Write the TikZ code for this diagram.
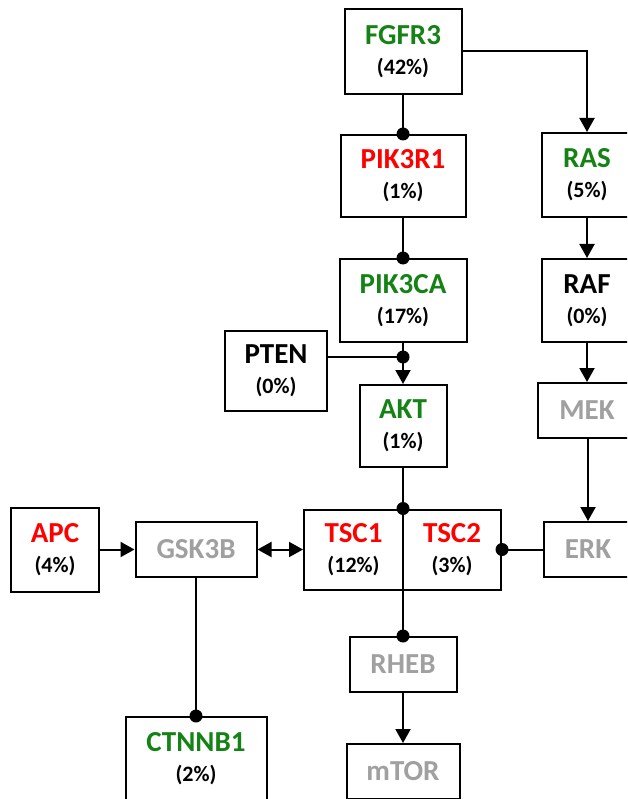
\documentclass[tikz,border=0pt]{standalone}
\usepackage{fontspec}
\setmainfont{Carlito}
\usetikzlibrary{arrows.meta,calc}
\definecolor{gGreen}{RGB}{20,130,20}
\definecolor{gRed}{RGB}{255,0,0}
\definecolor{gGray}{RGB}{160,160,160}
\newcommand{\gname}[2]{{\fontsize{29}{30}\selectfont\bfseries\color{#1}#2}}
\newcommand{\gpct}[1]{{\fontsize{22}{30}\selectfont\bfseries #1}}
\begin{document}
\begin{tikzpicture}[x=1pt,y=-1pt,
  gbox/.style={draw=black,line width=2pt,inner sep=0pt,align=center,fill=white,
    font=\fontsize{22}{30}\selectfont\bfseries},
  conn/.style={line width=2pt,draw=black},
  arr/.style={conn,-{Triangle[width=15pt,length=14pt]}},
  darr/.style={conn,{Triangle[width=15pt,length=14pt]}-{Triangle[width=15pt,length=14pt]}},
  dotr/.style={fill=black}
]
\useasboundingbox (0,0) rectangle (627,799);
\clip (0,0) rectangle (627,799);
\fill[white] (0,0) rectangle (627,799);

% nodes
\node[gbox,minimum width=117pt,minimum height=85pt] (FGFR3) at (403,51.5) {\gname{gGreen}{FGFR3}\\\gpct{(42\%)}};
\node[gbox,minimum width=125pt,minimum height=82pt] (PIK3R1) at (403,176) {\gname{gRed}{PIK3R1}\\\gpct{(1\%)}};
\node[gbox,minimum width=90pt,minimum height=84pt] (RAS) at (587,175) {\gname{gGreen}{RAS}\\\gpct{(5\%)}};
\node[gbox,minimum width=127pt,minimum height=83pt] (PIK3CA) at (403,300.5) {\gname{gGreen}{PIK3CA}\\\gpct{(17\%)}};
\node[gbox,minimum width=90pt,minimum height=83pt] (RAF) at (587,300.5) {\gname{black}{RAF}\\\gpct{(0\%)}};
\node[gbox,minimum width=102pt,minimum height=80pt] (PTEN) at (276,371) {\gname{black}{PTEN}\\\gpct{(0\%)}};
\node[gbox,minimum width=87pt,minimum height=82pt] (AKT) at (403,426) {\gname{gGreen}{AKT}\\\gpct{(1\%)}};
\node[gbox,minimum width=98pt,minimum height=55pt] (MEK) at (587,410.5) {\gname{gGray}{MEK}};
\node[gbox,minimum width=88pt,minimum height=55pt] (ERK) at (588,549.5) {\gname{gGray}{ERK}};
\node[gbox,minimum width=88pt,minimum height=84pt] (APC) at (55,549.5) {\gname{gRed}{APC}\\\gpct{(4\%)}};
\node[gbox,minimum width=121pt,minimum height=55pt] (GSK3B) at (196,549.5) {\gname{gGray}{GSK3B}};
\node[gbox,minimum width=99pt,minimum height=80pt] (TSC1) at (353.5,549.5) {\gname{gRed}{TSC1}\\\gpct{(12\%)}};
\node[gbox,minimum width=98pt,minimum height=80pt] (TSC2) at (452,549.5) {\gname{gRed}{TSC2}\\\gpct{(3\%)}};
\node[gbox,minimum width=107pt,minimum height=55pt] (RHEB) at (403,664.5) {\gname{gGray}{RHEB}};
\node[gbox,minimum width=141pt,minimum height=83pt] (CTNNB1) at (196,758.5) {\gname{gGreen}{CTNNB1}\\\gpct{(2\%)}};
\node[gbox,minimum width=113pt,minimum height=55pt] (mTOR) at (403,771.5) {\gname{gGray}{mTOR}};

\coordinate (j) at (403,357);
\coordinate (tsctop) at (AKT.south |- TSC1.north);
\coordinate (tscbot) at (RHEB.north |- TSC1.south);

% connectors
\draw[conn] (FGFR3.south) -- (PIK3R1.north);
\fill[dotr] (PIK3R1.north) circle (6.5pt);
\draw[arr] (FGFR3.east) -| (RAS.north);
\draw[conn] (PIK3R1.south) -- (PIK3CA.north);
\fill[dotr] (PIK3CA.north) circle (6.5pt);
\draw[arr] (RAS.south) -- (RAF.north);
\draw[arr] (PIK3CA.south) -- (AKT.north);
\draw[conn] (PTEN.east |- j) -- (j);
\fill[dotr] (j) circle (6.5pt);
\draw[arr] (RAF.south) -- (MEK.north);
\draw[arr] (MEK.south -| ERK.north) -- (ERK.north);
\draw[conn] (AKT.south) -- (tsctop);
\fill[dotr] (tsctop) circle (6.5pt);
\draw[conn] (ERK.west) -- (TSC2.east);
\fill[dotr] (TSC2.east) circle (6.5pt);
\draw[arr] (APC.east) -- (GSK3B.west);
\draw[darr] (GSK3B.east) -- (TSC1.west);
\draw[conn] (GSK3B.south) -- (CTNNB1.north);
\fill[dotr] (CTNNB1.north) circle (6.5pt);
\draw[conn] (tscbot) -- (RHEB.north);
\fill[dotr] (RHEB.north) circle (6.5pt);
\draw[arr] (RHEB.south) -- (mTOR.north);
\end{tikzpicture}
\end{document}
